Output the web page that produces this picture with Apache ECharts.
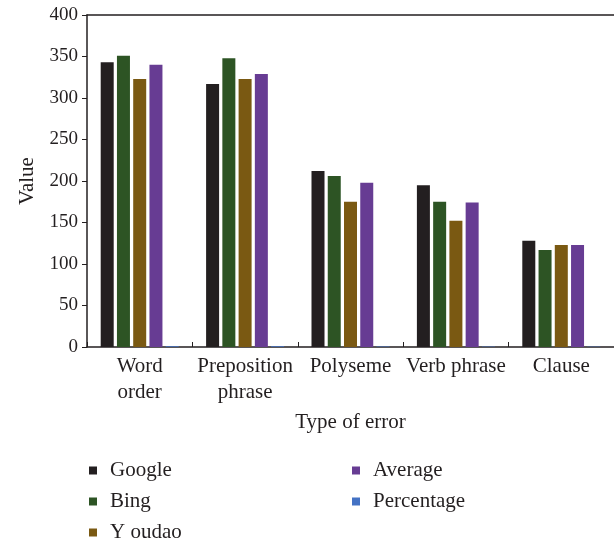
<!DOCTYPE html>
<html>
<head>
<meta charset="utf-8">
<script src="https://cdn.jsdelivr.net/npm/echarts@6/dist/echarts.min.js"></script>
<style>html,body{margin:0;padding:0;background:#fff}#c{width:614px;height:544px}</style>
</head>
<body>
<div id="c"></div>
<script>
const categories = ["Word\norder", "Preposition\nphrase", "Polyseme", "Verb phrase", "Clause"];
const google = [343, 317, 212, 195, 128];
const bing = [351, 348, 206, 175, 117];
const youdao = [323, 323, 175, 152, 123];
const average = [340, 329, 198, 174, 123];
const percentage = [0.9, 0.9, 0.6, 0.5, 0.4];
const yTicks = [0, 50, 100, 150, 200, 250, 300, 350, 400];

const seriesNames = ["Google", "Bing", "Y oudao", "Average", "Percentage"];
const seriesData = [google, bing, youdao, average, percentage];
const colors = ["#231f20", "#2d5424", "#7a5912", "#673c93", "#4472c4"];
const FONT = "Liberation Serif";
const legendPos = [[84, 455], [84, 486], [84, 517], [347, 455], [347, 486]];

const chart = echarts.init(document.getElementById('c'));
chart.setOption({
  animation: false,
  textStyle: { fontFamily: FONT, color: '#231f20' },
  grid: { left: 87, top: 15, right: 0, bottom: 197, containLabel: false },
  legend: seriesNames.map((n, i) => ({
    left: legendPos[i][0], top: legendPos[i][1], itemWidth: 8, itemHeight: 8, icon: 'rect',
    data: [n], textStyle: { fontFamily: FONT, fontSize: 21, color: '#231f20', padding: [0,0,0,8] }
  })),
  xAxis: [{
    type: 'category', data: categories,
    name: 'Type of error', nameLocation: 'middle', nameGap: 65,
    nameTextStyle: { fontFamily: FONT, fontSize: 21, color: '#231f20' },
    axisLine: { lineStyle: { color: '#231f20', width: 1.5 } },
    axisTick: { show: true, inside: true, length: 5, lineStyle: { color: '#231f20' } },
    axisLabel: { interval: 0, fontFamily: FONT, fontSize: 21, color: '#231f20', lineHeight: 26, margin: 6 }
  }, {
    type: 'category', position: 'top', data: categories,
    axisLine: { show: true, lineStyle: { color: '#231f20', width: 1.5 } },
    axisTick: { show: false }, axisLabel: { show: false }
  }],
  yAxis: {
    type: 'value', min: 0, max: 400, interval: 50,
    name: 'Value', nameLocation: 'middle', nameGap: 49, nameRotate: 90,
    nameTextStyle: { fontFamily: FONT, fontSize: 21, color: '#231f20' },
    axisLine: { show: true, lineStyle: { color: '#231f20', width: 1.5 } },
    axisTick: { show: true, length: 5, lineStyle: { color: '#231f20' } },
    axisLabel: { fontFamily: FONT, fontSize: 19, color: '#231f20', margin: 9,
      formatter: v => yTicks.includes(v) ? String(v) : '' },
    splitLine: { show: false }
  },
  series: seriesNames.map((n, i) => ({
    name: n, type: 'bar', data: seriesData[i], barWidth: 13, barGap: '25%',
    itemStyle: { color: colors[i] }
  }))
});
</script>
</body>
</html>
